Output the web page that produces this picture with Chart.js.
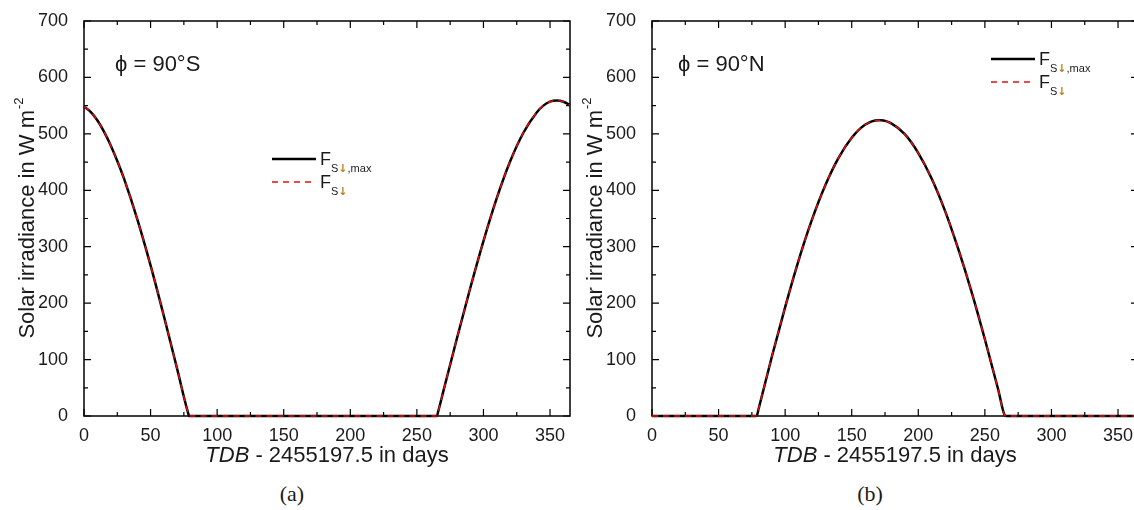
<!DOCTYPE html>
<html lang="en">

<head>
  <meta charset="UTF-8">
  <title>Solar irradiance at the poles</title>
  <script src="https://cdn.jsdelivr.net/npm/chart.js"></script>
  <style>
    body { margin: 0; background: #fff; overflow: hidden; }
    #fig { position: relative; width: 1134px; height: 510px; overflow: hidden; }
    canvas { position: absolute; top: 0; }
    .cap { position: absolute; top: 481px; width: 60px; margin-left: -30px; text-align: center;
           font: 22px "Liberation Serif", "Times New Roman", serif; color: #1a1a1a; }
  </style>
</head>

<body>

  <div id="fig">
    <canvas id="chartS" width="600" height="470" style="left:0px"></canvas>
    <canvas id="chartN" width="600" height="470" style="left:568px"></canvas>
    <div class="cap" style="left:292px">(a)</div>
    <div class="cap" style="left:870px">(b)</div>
  </div>

  <script>
    // days since TDB 2455197.5
    const days = [0, 5, 10, 15, 20, 25, 30, 40, 50, 60, 70, 78, 79, 80,
      90, 100, 110, 120, 130, 140, 150, 160, 170, 172, 180, 190, 200, 210, 220, 230, 240, 250, 260,
      265, 266, 270, 280, 290, 300, 310, 320, 330, 340, 345, 350, 355, 360, 365];

    // phi = 90°S
    const fsMaxSouth = [548, 539, 524, 504, 480, 452, 421, 349, 267, 177, 83, 7, 0, 0,
      0, 0, 0, 0, 0, 0, 0, 0, 0, 0, 0, 0, 0, 0, 0, 0, 0, 0, 0,
      0, 8, 45, 137, 226, 310, 386, 451, 502, 538, 550, 557, 559, 557, 551];
    const fsSouth = [548, 539, 524, 504, 480, 452, 421, 349, 267, 177, 83, 7, 0, 0,
      0, 0, 0, 0, 0, 0, 0, 0, 0, 0, 0, 0, 0, 0, 0, 0, 0, 0, 0,
      0, 8, 45, 137, 226, 310, 386, 451, 502, 538, 550, 557, 559, 557, 551];

    // phi = 90°N
    const fsMaxNorth = [0, 0, 0, 0, 0, 0, 0, 0, 0, 0, 0, 0, 2, 12,
      105, 193, 275, 347, 408, 457, 493, 516, 524, 524, 518, 499, 466, 421, 364, 296, 220, 136, 47,
      1, 0, 0, 0, 0, 0, 0, 0, 0, 0, 0, 0, 0, 0, 0];
    const fsNorth = [0, 0, 0, 0, 0, 0, 0, 0, 0, 0, 0, 0, 2, 12,
      105, 193, 275, 347, 408, 457, 493, 516, 524, 524, 518, 499, 466, 421, 364, 296, 220, 136, 47,
      1, 0, 0, 0, 0, 0, 0, 0, 0, 0, 0, 0, 0, 0, 0];

    const xTicks = [0, 50, 100, 150, 200, 250, 300, 350];
    const yTicks = [0, 100, 200, 300, 400, 500, 600, 700];

    const sans = '"Liberation Sans", Arial, sans-serif';
    const ink = '#1a1a1a';

    function pts(vals) {
      return days.map((d, i) => ({ x: d, y: vals[i] }));
    }

    // box round the plot with inward ticks on all four sides
    const frame = {
      id: 'frame',
      beforeDatasetsDraw(chart) {
        const { ctx, chartArea: a, scales: { x, y } } = chart;
        ctx.save();
        ctx.strokeStyle = '#000';
        ctx.lineWidth = 1.2;
        ctx.beginPath();
        for (let i = 0; i < xTicks.length; i++) {
          const major = x.getPixelForValue(xTicks[i]);
          const minor = x.getPixelForValue(xTicks[i] + 25);
          ctx.moveTo(major, a.bottom); ctx.lineTo(major, a.bottom - 7);
          ctx.moveTo(major, a.top); ctx.lineTo(major, a.top + 7);
          if (minor < a.right) {
            ctx.moveTo(minor, a.bottom); ctx.lineTo(minor, a.bottom - 4);
            ctx.moveTo(minor, a.top); ctx.lineTo(minor, a.top + 4);
          }
        }
        for (let i = 0; i < yTicks.length; i++) {
          const major = y.getPixelForValue(yTicks[i]);
          const minor = y.getPixelForValue(yTicks[i] + 50);
          ctx.moveTo(a.left, major); ctx.lineTo(a.left + 7, major);
          ctx.moveTo(a.right, major); ctx.lineTo(a.right - 7, major);
          if (minor > a.top) {
            ctx.moveTo(a.left, minor); ctx.lineTo(a.left + 4, minor);
            ctx.moveTo(a.right, minor); ctx.lineTo(a.right - 4, minor);
          }
        }
        ctx.stroke();
        ctx.lineWidth = 1.5;
        ctx.strokeRect(a.left, a.top, a.right - a.left, a.bottom - a.top);
        ctx.restore();
      }
    };

    function legendEntry(ctx, x, y, tail) {
      ctx.fillStyle = ink;
      ctx.font = '18px ' + sans;
      ctx.fillText('F', x, y + 6);
      let cx = x + ctx.measureText('F').width;
      ctx.font = '11px ' + sans;
      ctx.fillText('S', cx, y + 13);
      cx += ctx.measureText('S').width;
      ctx.fillStyle = '#b8821e';
      ctx.font = 'bold 11px "DejaVu Sans", sans-serif';
      ctx.fillText('\u2193', cx, y + 13);
      cx += ctx.measureText('\u2193').width;
      ctx.fillStyle = ink;
      ctx.font = '11px ' + sans;
      if (tail) ctx.fillText(tail, cx, y + 13);
    }

    const decor = {
      id: 'decor',
      afterDraw(chart, args, opts) {
        const { ctx, chartArea: a } = chart;
        ctx.save();
        ctx.textBaseline = 'alphabetic';
        ctx.textAlign = 'left';

        // latitude label
        ctx.fillStyle = ink;
        ctx.font = '22px ' + sans;
        ctx.fillText(opts.tag, opts.tagX, 71);

        // legend
        const lx = opts.legX, ly = opts.legY;
        ctx.lineWidth = 2.5;
        ctx.strokeStyle = '#000';
        ctx.beginPath(); ctx.moveTo(lx, ly); ctx.lineTo(lx + 44, ly); ctx.stroke();
        ctx.lineWidth = 1.5;
        ctx.strokeStyle = '#e01010';
        ctx.setLineDash([6, 5]);
        ctx.beginPath(); ctx.moveTo(lx, ly + 23); ctx.lineTo(lx + 44, ly + 23); ctx.stroke();
        ctx.setLineDash([]);
        legendEntry(ctx, lx + 48, ly, ',max');
        legendEntry(ctx, lx + 48, ly + 23, '');

        // x axis title
        const cxm = (a.left + a.right) / 2;
        ctx.font = 'italic 22px ' + sans;
        const w1 = ctx.measureText('TDB').width;
        ctx.font = '22px ' + sans;
        const rest = ' - 2455197.5 in days';
        const w2 = ctx.measureText(rest).width;
        let sx = cxm - (w1 + w2) / 2;
        ctx.font = 'italic 22px ' + sans;
        ctx.fillText('TDB', sx, 462);
        ctx.font = '22px ' + sans;
        ctx.fillText(rest, sx + w1, 462);

        // y axis title
        ctx.translate(34, (a.top + a.bottom) / 2);
        ctx.rotate(-Math.PI / 2);
        const main = 'Solar irradiance in W m';
        ctx.font = '22px ' + sans;
        const m1 = ctx.measureText(main).width;
        ctx.font = '13px ' + sans;
        const m2 = ctx.measureText('-2').width;
        const start = -(m1 + m2) / 2;
        ctx.font = '22px ' + sans;
        ctx.fillText(main, start, 0);
        ctx.font = '13px ' + sans;
        ctx.fillText('-2', start + m1 + 1, -11);
        ctx.restore();
      }
    };

    function makeChart(id, maxVals, vals, tag, tagX, legX, legY) {
      const ctx = document.getElementById(id).getContext('2d');
      return new Chart(ctx, {
        type: 'line',
        data: {
          datasets: [{
            label: 'F S\u2193',
            data: pts(vals),
            borderColor: '#e01010',
            borderWidth: 1.5,
            borderDash: [6, 5],
            pointRadius: 0,
            cubicInterpolationMode: 'monotone',
            clip: false,
            order: 0
          }, {
            label: 'F S\u2193,max',
            data: pts(maxVals),
            borderColor: '#000',
            borderWidth: 2.5,
            pointRadius: 0,
            cubicInterpolationMode: 'monotone',
            clip: false,
            order: 1
          }]
        },
        options: {
          responsive: false,
          animation: false,
          devicePixelRatio: 1,
          layout: { padding: { left: 0, top: 21, right: 30, bottom: 0 } },
          plugins: {
            legend: { display: false },
            tooltip: { enabled: false },
            decor: { tag: tag, tagX: tagX, legX: legX, legY: legY }
          },
          scales: {
            x: {
              type: 'linear',
              min: 0,
              max: 365,
              afterFit: s => { s.height = 54; },
              grid: { display: false },
              border: { display: false },
              ticks: {
                stepSize: 50,
                includeBounds: false,
                maxRotation: 0,
                padding: 1,
                color: ink,
                font: { family: sans, size: 18 }
              }
            },
            y: {
              min: 0,
              max: 700,
              afterFit: s => { s.width = 84; },
              grid: { display: false },
              border: { display: false },
              ticks: {
                stepSize: 100,
                padding: 8,
                color: ink,
                font: { family: sans, size: 18 }
              }
            }
          }
        },
        plugins: [frame, decor]
      });
    }

    makeChart('chartS', fsMaxSouth, fsSouth, '\u03d5 = 90\u00b0S', 115, 272, 159);
    makeChart('chartN', fsMaxNorth, fsNorth, '\u03d5 = 90\u00b0N', 110, 423, 59);
  </script>

</body>

</html>
